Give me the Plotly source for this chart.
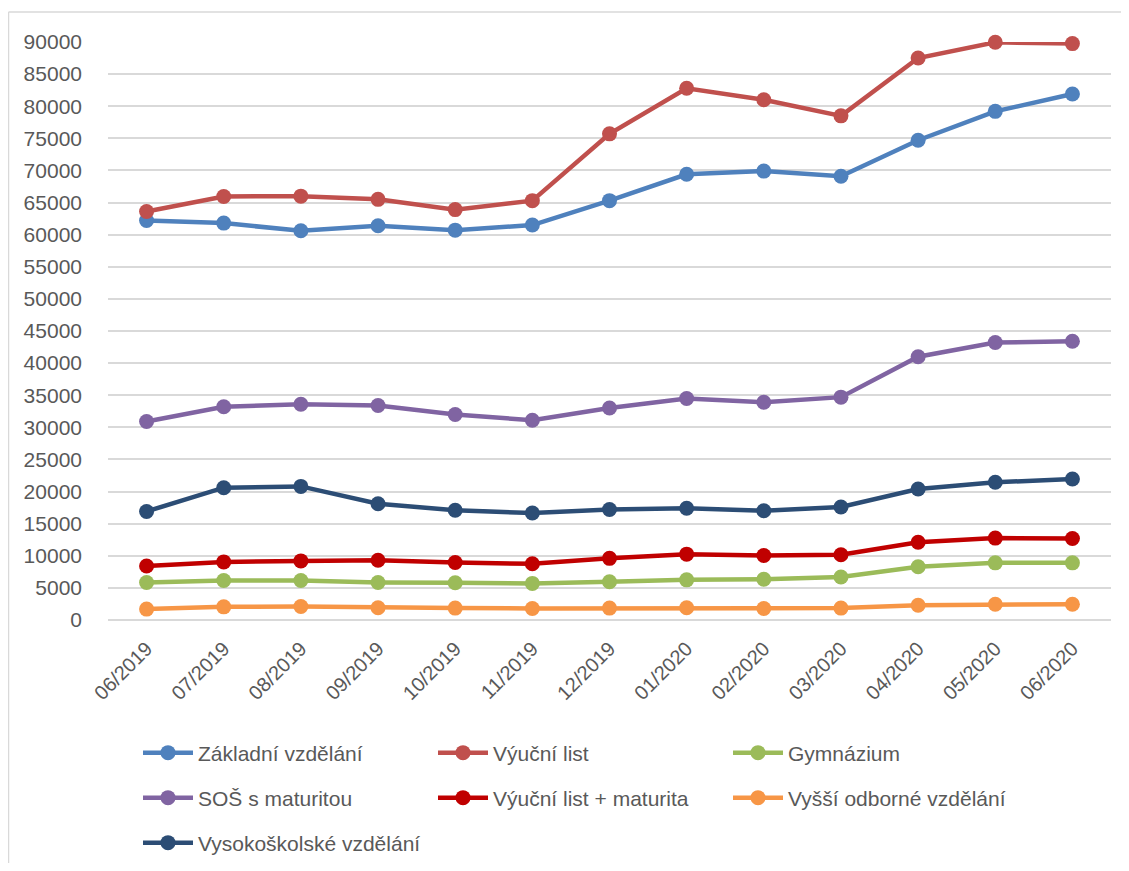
import plotly.graph_objects as go

months = ["06/2019", "07/2019", "08/2019", "09/2019", "10/2019", "11/2019", "12/2019",
          "01/2020", "02/2020", "03/2020", "04/2020", "05/2020", "06/2020"]

zakladni = [62200, 61800, 60600, 61400, 60700, 61500, 65300, 69400, 69900, 69100, 74700, 79200, 81900]
vyucni = [63600, 65950, 66000, 65500, 63900, 65300, 75700, 82800, 81000, 78500, 87500, 89950, 89750]
gymnazium = [5850, 6150, 6150, 5850, 5800, 5700, 5950, 6250, 6350, 6700, 8300, 8900, 8900]
sos = [30900, 33200, 33600, 33400, 32000, 31100, 33000, 34500, 33900, 34700, 41000, 43200, 43400]
vyucni_mat = [8400, 9050, 9200, 9300, 8950, 8750, 9600, 10250, 10050, 10150, 12100, 12750, 12700]
vyssi = [1700, 2050, 2100, 1900, 1850, 1800, 1850, 1900, 1800, 1850, 2300, 2450, 2450]
vysoko = [16900, 20600, 20800, 18100, 17100, 16650, 17200, 17400, 17000, 17600, 20400, 21450, 21950]

series = [
    ("Základní vzdělání", zakladni, "#4F81BD", "legend"),
    ("Výuční list", vyucni, "#C0504D", "legend"),
    ("Gymnázium", gymnazium, "#9BBB59", "legend"),
    ("SOŠ s maturitou", sos, "#8064A2", "legend2"),
    ("Výuční list + maturita", vyucni_mat, "#C00000", "legend2"),
    ("Vyšší odborné vzdělání", vyssi, "#F79646", "legend2"),
    ("Vysokoškolské vzdělání", vysoko, "#2C4D75", "legend3"),
]

fig = go.Figure()
for name, vals, color, lg in series:
    fig.add_trace(go.Scatter(
        x=months, y=vals, name=name, mode="lines+markers",
        line=dict(color=color, width=4.5),
        marker=dict(color=color, size=15),
        cliponaxis=False, legend=lg,
    ))

# page is offset by the 8px body margin; keep the figure inside the viewport
OFF = 8
W, H = 1129 - 2 * OFF, 871 - 2 * OFF
PL, PR, PT, PB = 108 - OFF, 1111 - OFF, 42 - OFF, 620 - OFF
PW, PH = PR - PL, PB - PT

def px_x(p):
    return (p - OFF - PL) / PW

def px_y(p):
    return (PB - (p - OFF)) / PH

legend_common = dict(
    orientation="h", xanchor="left", yanchor="middle",
    font=dict(family="Liberation Sans", size=21, color="#595959"),
    entrywidth=230, entrywidthmode="pixels", itemwidth=50,
    bgcolor="rgba(0,0,0,0)", tracegroupgap=0, itemclick=False,
)

border = dict(color="#D9D9D9", width=1.5)

fig.update_layout(
    width=W, height=H,
    margin=dict(l=PL, r=W - PR, t=PT, b=H - PB, autoexpand=False),
    paper_bgcolor="white", plot_bgcolor="white",
    font=dict(family="Liberation Sans", color="#595959"),
    showlegend=True,
    legend=dict(x=px_x(138), y=px_y(753), **legend_common),
    legend2=dict(x=px_x(138), y=px_y(798), **legend_common),
    legend3=dict(x=px_x(138), y=px_y(843), **legend_common),
    xaxis=dict(
        type="category", tickangle=-45, showgrid=False, zeroline=False,
        showline=False, ticks="", tickfont=dict(size=20, color="#595959"),
        range=[-0.5, len(months) - 0.5], ticklabelstandoff=12, automargin=False,
    ),
    yaxis=dict(
        range=[0, 90000], dtick=5000, tickformat="d",
        showgrid=True, gridcolor="#D9D9D9", gridwidth=2,
        zeroline=True, zerolinecolor="#D9D9D9", zerolinewidth=2,
        showline=False, ticks="", tickfont=dict(size=21, color="#595959"),
        ticklabelstandoff=25, automargin=False,
    ),
    shapes=[
        dict(type="line", xref="paper", yref="paper",
             x0=px_x(8.5), x1=px_x(8.5), y0=px_y(900), y1=px_y(12), line=border),
        dict(type="line", xref="paper", yref="paper",
             x0=px_x(8.5), x1=px_x(1200), y0=px_y(12), y1=px_y(12), line=border),
    ],
)

fig.write_html("out.html")
